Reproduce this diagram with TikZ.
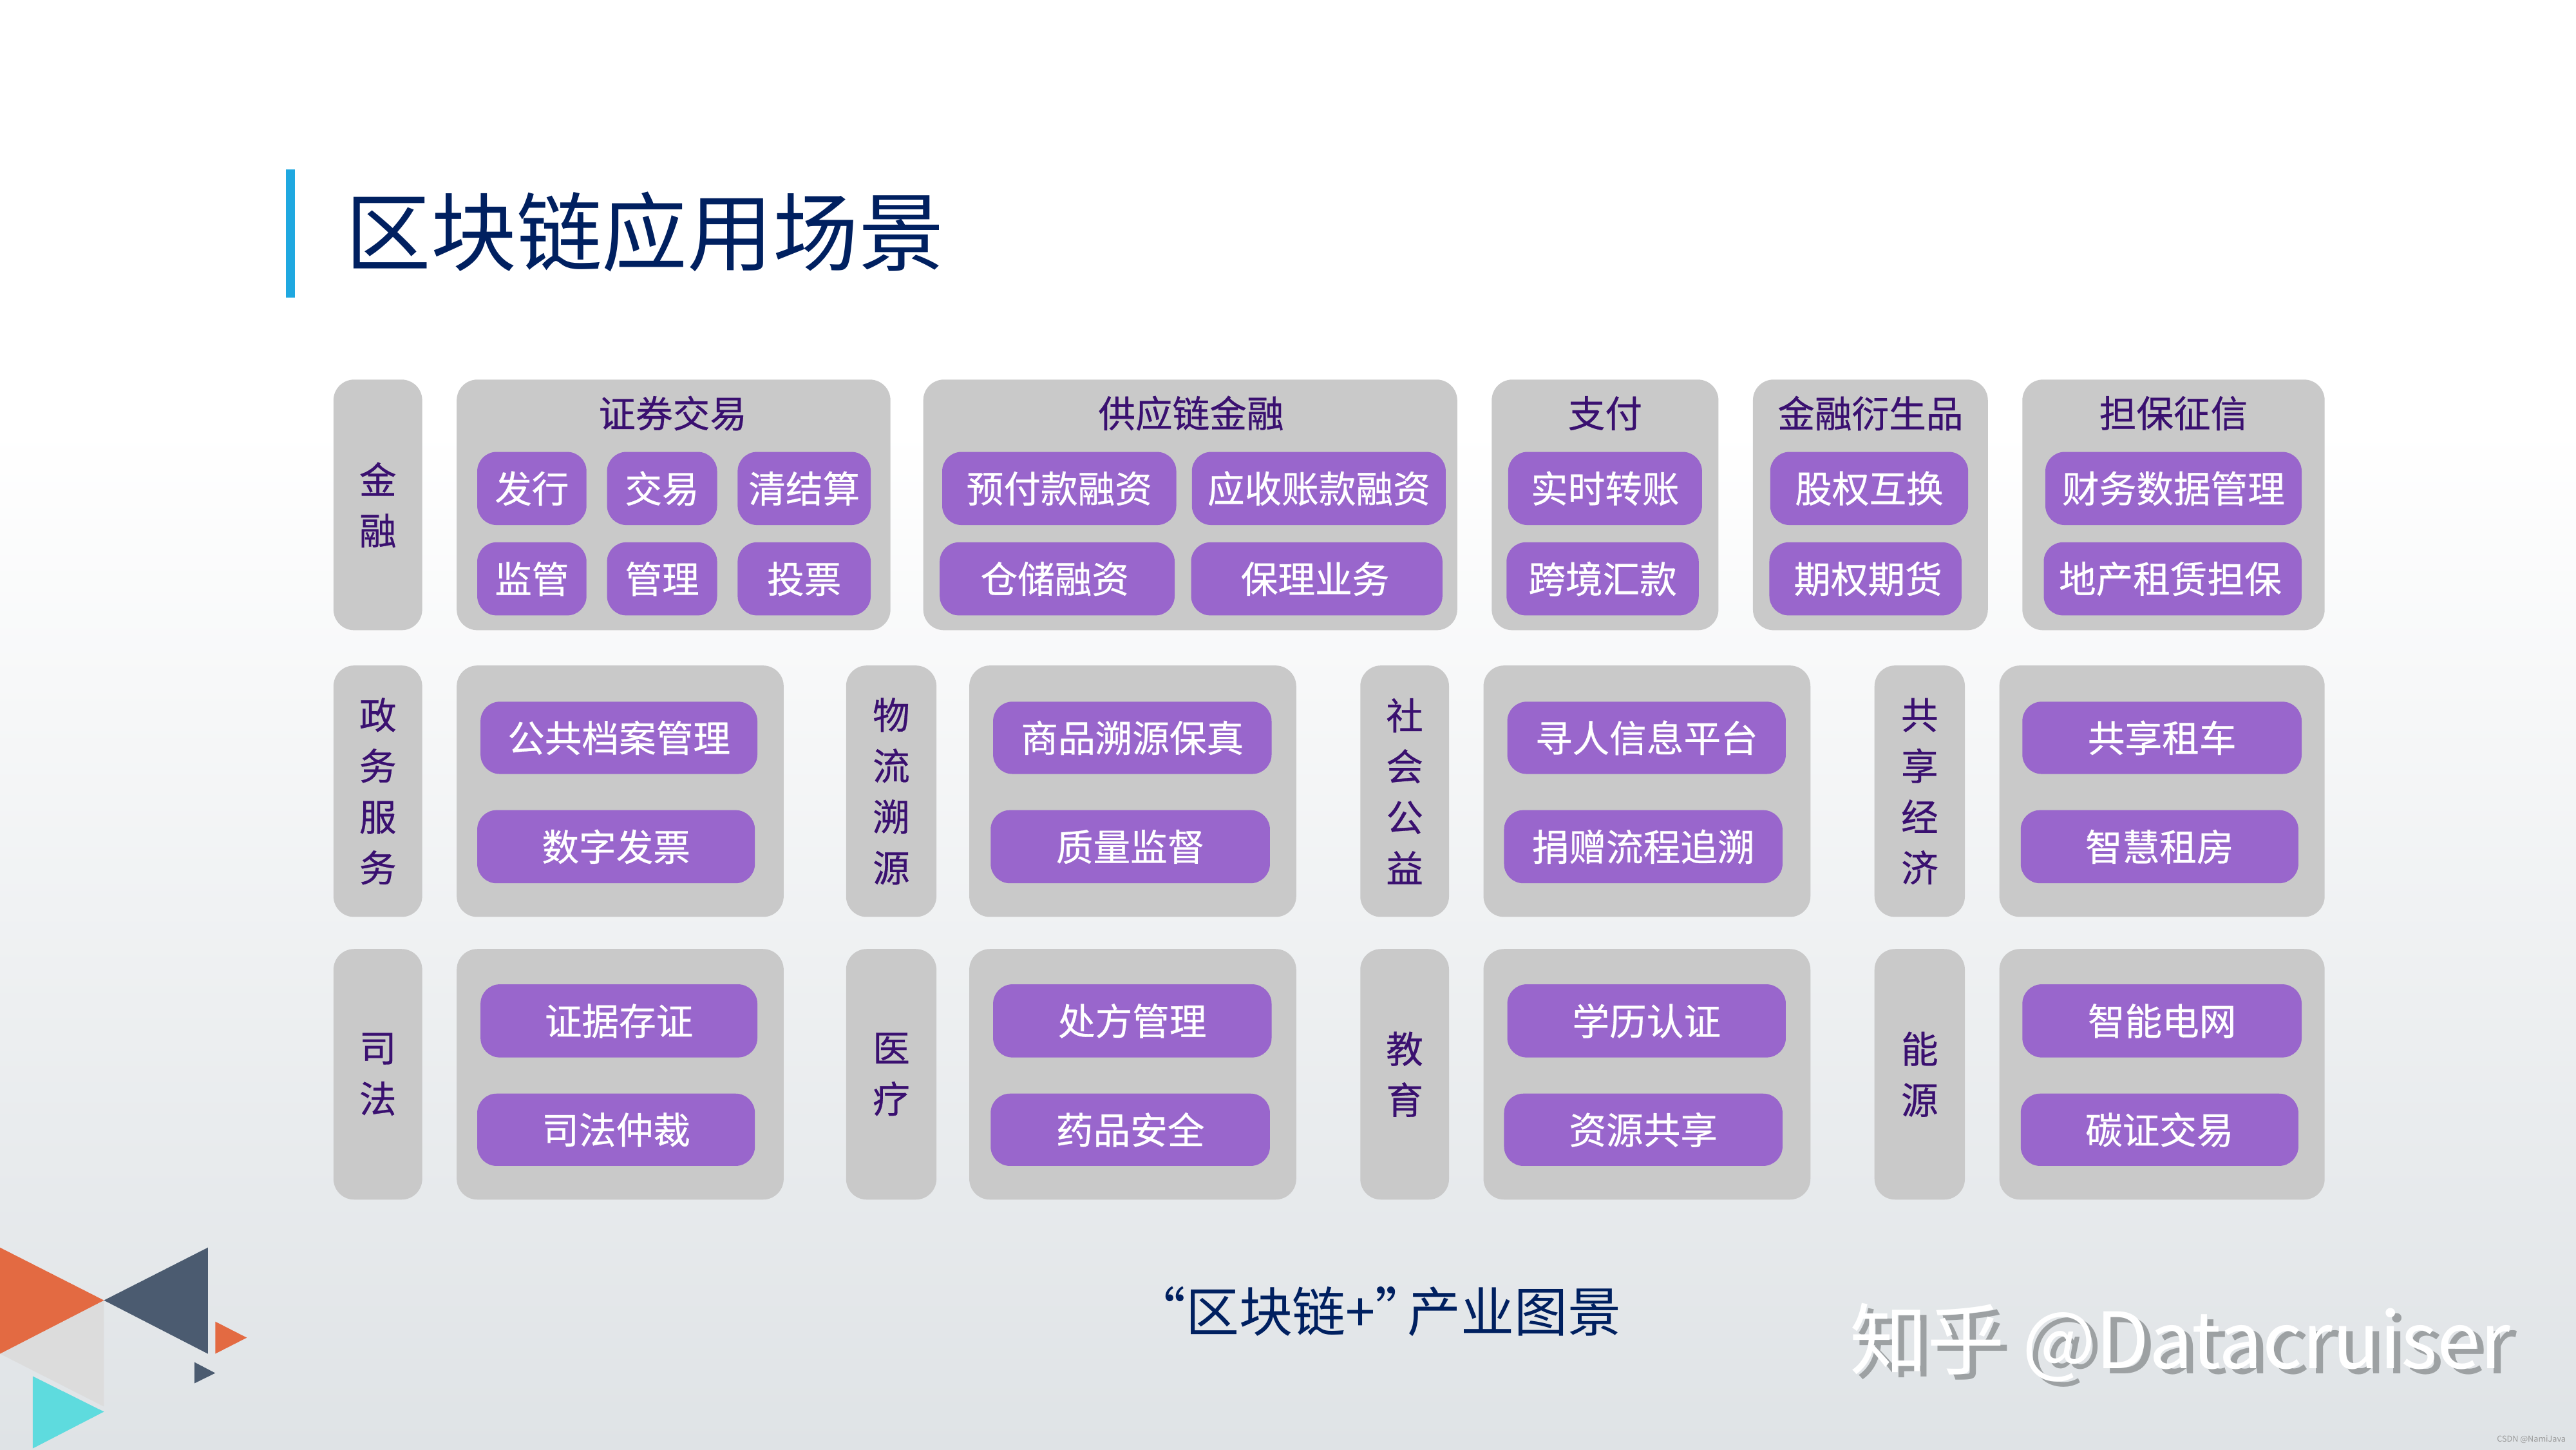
\documentclass[tikz,border=0pt]{standalone}
\usepackage{fontspec}
\setmainfont{Noto Sans CJK SC}
\newfontfamily\semifont[FakeBold=0.5]{Noto Sans CJK SC}
\definecolor{boxgrey}{HTML}{C9C9C9}
\definecolor{pillpurple}{HTML}{9966CC}
\definecolor{labelpurple}{HTML}{3A1070}
\definecolor{titlenavy}{HTML}{002060}
\definecolor{barblue}{HTML}{1FA8E0}
\definecolor{bgbottom}{HTML}{DFE3E6}
\definecolor{triorange}{HTML}{E36A42}
\definecolor{trinavy}{HTML}{4B5B70}
\definecolor{trigrey}{HTML}{DCDCDC}
\definecolor{tricyan}{HTML}{5EDBDE}
\definecolor{markshadow}{HTML}{9DA1A3}
\tikzset{
  greybox/.style={fill=boxgrey,draw=none,rounded corners=0.32cm,inner sep=0pt,text=labelpurple,align=center,font=\semifont\fontsize{16.4}{22.5}\selectfont},
  pill/.style={fill=pillpurple,draw=none,rounded corners=0.3cm,inner sep=0pt,text=white,font=\semifont\fontsize{16.4}{20}\selectfont},
  heading/.style={inner sep=0pt,text=labelpurple,font=\semifont\fontsize{16.4}{20}\selectfont},
  tri/.style={draw=none}
}
% style, name, x0, y0, x1, y1, text (in 1568x882 reference units)
\newcommand{\placebox}[7]{%
  \pgfmathsetmacro{\bw}{(#5-#3)*0.02551}%
  \pgfmathsetmacro{\bh}{(#6-#4)*0.02551}%
  \node[#1,minimum width=\bw cm,minimum height=\bh cm] (#2) at ({(#3+#5)/2},{(#4+#6)/2}) {#7};%
}
\begin{document}
\begin{tikzpicture}[x=0.02551cm,y=-0.02551cm]
\useasboundingbox (0,0) rectangle (1568,882);
% background
\fill[white] (0,0) rectangle (1568,260);
\shade[top color=white,bottom color=bgbottom,draw=none] (0,260) rectangle (1568,882);
% title
\fill[barblue] (174,103) rectangle (179.5,181);
\node[inner sep=0pt,text=titlenavy,font=\fontsize{37.8}{44}\selectfont] (title) at (392.5,141) {区块链应用场景};
% finance row
\placebox{greybox}{gA}{203}{231}{257}{383.5}{金\\融}
\placebox{greybox}{gB}{278}{231}{542}{383.5}{}
\placebox{greybox}{gC}{562}{231}{887}{383.5}{}
\placebox{greybox}{gD}{908}{231}{1046}{383.5}{}
\placebox{greybox}{gE}{1067}{231}{1210}{383.5}{}
\placebox{greybox}{gF}{1231}{231}{1415}{383.5}{}
\node[heading] (hB) at (409.5,251.5) {证券交易};
\node[heading] (hC) at (725,251.5) {供应链金融};
\node[heading] (hD) at (977,251.5) {支付};
\node[heading] (hE) at (1138.5,251.5) {金融衍生品};
\node[heading] (hF) at (1323,251.5) {担保征信};
\placebox{pill}{p1}{290.5}{275}{357}{319.5}{发行}
\placebox{pill}{p2}{369.5}{275}{436.5}{319.5}{交易}
\placebox{pill}{p3}{449}{275}{530}{319.5}{清结算}
\placebox{pill}{p4}{290.5}{330}{357}{374.5}{监管}
\placebox{pill}{p5}{369.5}{330}{436.5}{374.5}{管理}
\placebox{pill}{p6}{449}{330}{530}{374.5}{投票}
\placebox{pill}{p7}{573.5}{275}{716}{319.5}{预付款融资}
\placebox{pill}{p8}{725.5}{275}{880}{319.5}{应收账款融资}
\placebox{pill}{p9}{572}{330}{715}{374.5}{\kern-2.2pt仓储融资}
\placebox{pill}{p10}{725}{330}{878}{374.5}{\kern-1.5pt保理业务}
\placebox{pill}{p11}{918}{275}{1036}{319.5}{实时转账}
\placebox{pill}{p12}{917}{330}{1034}{374.5}{跨境汇款}
\placebox{pill}{p13}{1077.5}{275}{1198}{319.5}{股权互换}
\placebox{pill}{p14}{1077}{330}{1194}{374.5}{\kern2.2pt期权期货}
\placebox{pill}{p15}{1245}{275}{1401}{319.5}{财务数据管理}
\placebox{pill}{p16}{1244}{330}{1401}{374.5}{\kern-2.2pt地产租赁担保}
% second row
\placebox{greybox}{l21}{203}{405}{257}{558}{政\\务\\服\\务}
\placebox{greybox}{b21}{278}{405}{477}{558}{}
\placebox{greybox}{l22}{515}{405}{570}{558}{物\\流\\溯\\源}
\placebox{greybox}{b22}{590}{405}{789}{558}{}
\placebox{greybox}{l23}{828}{405}{882}{558}{社\\会\\公\\益}
\placebox{greybox}{b23}{903}{405}{1102}{558}{}
\placebox{greybox}{l24}{1141}{405}{1196}{558}{共\\享\\经\\济}
\placebox{greybox}{b24}{1217}{405}{1415}{558}{}
\placebox{pill}{q1}{292.5}{427}{461}{471}{公共档案管理}
\placebox{pill}{q2}{290.5}{493}{459.5}{537.5}{数字发票}
\placebox{pill}{q3}{604.5}{427}{774}{471}{商品溯源保真}
\placebox{pill}{q4}{603}{493}{773}{537.5}{质量监督}
\placebox{pill}{q5}{917.5}{427}{1087}{471}{寻人信息平台}
\placebox{pill}{q6}{915.5}{493}{1085}{537.5}{捐赠流程追溯}
\placebox{pill}{q7}{1231}{427}{1401}{471}{共享租车}
\placebox{pill}{q8}{1230}{493}{1399}{537.5}{智慧租房}
% third row
\placebox{greybox}{l31}{203}{577.5}{257}{730}{司\\法}
\placebox{greybox}{b31}{278}{577.5}{477}{730}{}
\placebox{greybox}{l32}{515}{577.5}{570}{730}{医\\疗}
\placebox{greybox}{b32}{590}{577.5}{789}{730}{}
\placebox{greybox}{l33}{828}{577.5}{882}{730}{教\\育}
\placebox{greybox}{b33}{903}{577.5}{1102}{730}{}
\placebox{greybox}{l34}{1141}{577.5}{1196}{730}{能\\源}
\placebox{greybox}{b34}{1217}{577.5}{1415}{730}{}
\placebox{pill}{r1}{292.5}{599}{461}{643.5}{证据存证}
\placebox{pill}{r2}{290.5}{665.5}{459.5}{709.5}{司法仲裁}
\placebox{pill}{r3}{604.5}{599}{774}{643.5}{处方管理}
\placebox{pill}{r4}{603}{665.5}{773}{709.5}{药品安全}
\placebox{pill}{r5}{917.5}{599}{1087}{643.5}{学历认证}
\placebox{pill}{r6}{915.5}{665.5}{1085}{709.5}{资源共享}
\placebox{pill}{r7}{1231}{599}{1401}{643.5}{智能电网}
\placebox{pill}{r8}{1230}{665.5}{1399}{709.5}{碳证交易}
% caption
\node[inner sep=0pt,text=titlenavy,font=\fontsize{23.6}{28}\selectfont] (caption) at (838,798) {“区块链+”\kern-0.4em产业图景};
% watermark
\node[inner sep=0pt,text=markshadow,font=\fontsize{34.3}{40}\selectfont] (markshadow) at (1331,820) {知乎 @Datacruiser};
\node[inner sep=0pt,text=white,font=\fontsize{34.3}{40}\selectfont] (mark) at (1327,817) {知乎 @Datacruiser};
\node[inner sep=0pt,text=gray!80,font=\fontsize{3.6}{4}\selectfont,anchor=east] (credit) at (1562,876) {CSDN @NamiJava};
% corner triangles (full-size pixel units)
\begin{scope}[x=0.01cm,y=-0.01cm]
\fill[trigrey] (161.5,2020) -- (0,2103) -- (161.5,2185) -- cycle;
\fill[triorange] (0,1938) -- (161.5,2020) -- (0,2103) -- cycle;
\fill[trinavy] (161.5,2020) -- (323,1938) -- (323,2103) -- cycle;
\fill[triorange] (334.5,2053) -- (383.5,2078) -- (334.5,2103) -- cycle;
\fill[trinavy] (302,2116) -- (334.5,2133) -- (302,2149) -- cycle;
\fill[tricyan] (51,2138) -- (161.5,2193) -- (51,2250) -- cycle;
\end{scope}
\end{tikzpicture}
\end{document}
